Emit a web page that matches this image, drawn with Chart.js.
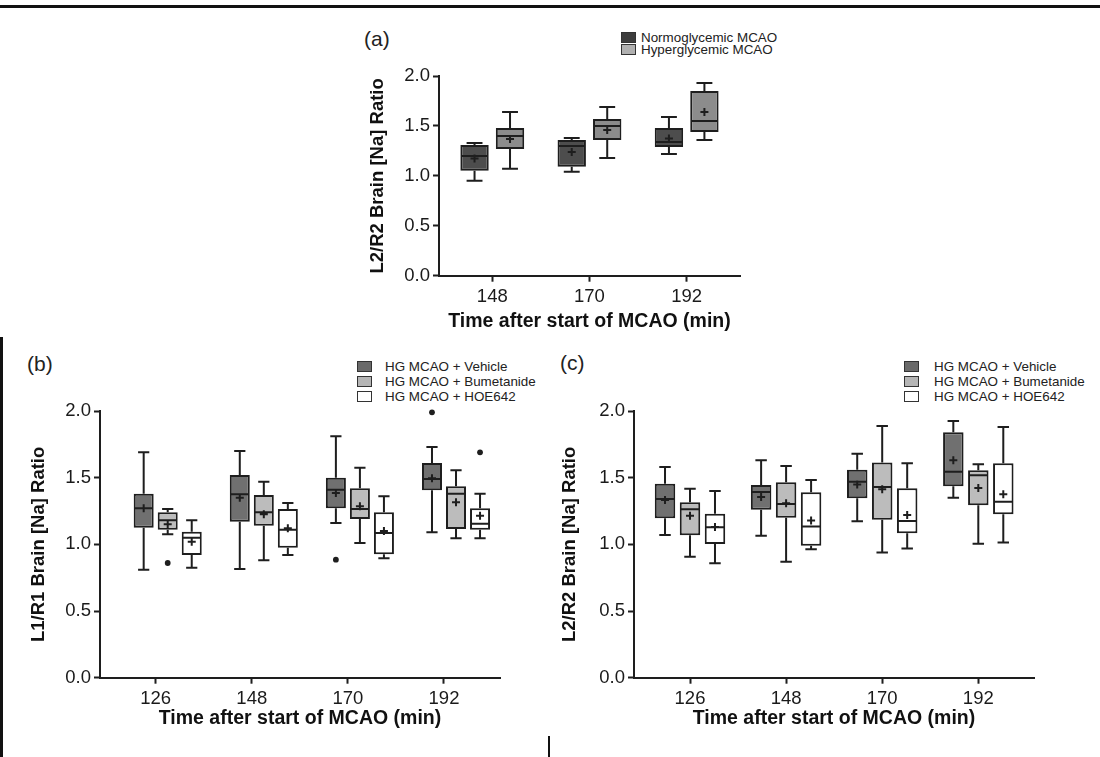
<!DOCTYPE html>
<html>
<head>
<meta charset="utf-8">
<script src="https://cdn.jsdelivr.net/npm/chart.js@4.4.1/dist/chart.umd.min.js"></script>
<style>
  html, body { margin: 0; padding: 0; background: #fff; }
  body { width: 1100px; height: 757px; position: relative; overflow: hidden; font-family: 'Liberation Sans', Arial, sans-serif; color: #222; }
  canvas { position: absolute; }
  .rule { position: absolute; background: #111; }
  .panel-tag { position: absolute; font-size: 21px; line-height: 24px; }
  .legend { position: absolute; font-size: 13.4px; }
  .legend .row { display: flex; align-items: center; white-space: nowrap; }
  .legend .sw { box-sizing: border-box; width: 15px; height: 11px; border: 1.5px solid #333; flex: none; }
</style>
</head>
<body>

<div class="rule" style="left:0;top:5px;width:1100px;height:2.5px"></div>
<div class="rule" style="left:0;top:337px;width:2.5px;height:420px"></div>
<div class="rule" style="left:548px;top:736px;width:2px;height:21px"></div>

<div class="panel-tag" style="left:364px;top:27px">(a)</div>
<div class="panel-tag" style="left:27px;top:352px">(b)</div>
<div class="panel-tag" style="left:560px;top:351px">(c)</div>

<div class="legend" id="legA" style="left:621px;top:31px"></div>
<div class="legend" id="legB" style="left:357px;top:359px"></div>
<div class="legend" id="legC" style="left:904px;top:359px"></div>

<canvas id="chartA" width="420" height="300" style="left:340px;top:40px"></canvas>
<canvas id="chartB" width="550" height="410" style="left:0px;top:340px"></canvas>
<canvas id="chartC" width="550" height="410" style="left:550px;top:340px"></canvas>

<script>
// time points (min after start of MCAO)
const TIMES_A = [148, 170, 192];
const TIMES_BC = [126, 148, 170, 192];
const Y_TICKS = [0, 0.5, 1.0, 1.5, 2.0];

// each row: [whisker low, Q1, median, Q3, whisker high, mean]
const A_NORMO = [
  [0.95, 1.05, 1.20, 1.31, 1.33, 1.175],
  [1.04, 1.09, 1.30, 1.36, 1.38, 1.24],
  [1.22, 1.29, 1.34, 1.48, 1.59, 1.375]
];
const A_HYPER = [
  [1.07, 1.27, 1.40, 1.48, 1.64, 1.37],
  [1.18, 1.36, 1.50, 1.57, 1.69, 1.46],
  [1.36, 1.44, 1.55, 1.85, 1.93, 1.64]
];

const B_VEH = [
  [0.81, 1.125, 1.27, 1.38, 1.69, 1.27],
  [0.815, 1.17, 1.375, 1.52, 1.70, 1.35],
  [1.16, 1.27, 1.41, 1.50, 1.81, 1.385],
  [1.09, 1.405, 1.49, 1.61, 1.73, 1.495]
];
const B_BUM = [
  [1.075, 1.11, 1.18, 1.24, 1.265, 1.15],
  [0.88, 1.14, 1.24, 1.37, 1.47, 1.225],
  [1.01, 1.19, 1.265, 1.42, 1.575, 1.285],
  [1.045, 1.115, 1.38, 1.435, 1.555, 1.315]
];
const B_HOE = [
  [0.825, 0.92, 1.05, 1.095, 1.18, 1.02],
  [0.92, 0.975, 1.11, 1.265, 1.31, 1.12],
  [0.895, 0.925, 1.085, 1.24, 1.36, 1.10],
  [1.045, 1.11, 1.155, 1.27, 1.38, 1.215]
];
const B_VEH_OUT = [[], [], [0.885], [1.99]];
const B_BUM_OUT = [[0.86], [], [], []];
const B_HOE_OUT = [[], [], [], [1.69]];

const C_VEH = [
  [1.07, 1.195, 1.34, 1.455, 1.58, 1.333],
  [1.065, 1.26, 1.393, 1.445, 1.63, 1.355],
  [1.173, 1.345, 1.47, 1.56, 1.68, 1.448],
  [1.35, 1.435, 1.545, 1.84, 1.925, 1.63]
];
const C_BUM = [
  [0.907, 1.068, 1.263, 1.315, 1.417, 1.215],
  [0.87, 1.20, 1.303, 1.465, 1.588, 1.308],
  [0.938, 1.185, 1.43, 1.613, 1.888, 1.413],
  [1.005, 1.293, 1.518, 1.555, 1.60, 1.423]
];
const C_HOE = [
  [0.858, 1.003, 1.128, 1.23, 1.40, 1.13],
  [0.963, 0.99, 1.133, 1.39, 1.483, 1.178],
  [0.968, 1.083, 1.175, 1.42, 1.608, 1.22],
  [1.013, 1.225, 1.32, 1.608, 1.88, 1.375]
];

const LEGEND_A = ['Normoglycemic MCAO', 'Hyperglycemic MCAO'];
const LEGEND_BC = ['HG MCAO + Vehicle', 'HG MCAO + Bumetanide', 'HG MCAO + HOE642'];

const FONT = "'Liberation Sans', Arial, sans-serif";
const LINE = '#1e1e1e';
const TEXT = '#1a1a1a';
const TICK_SIZE = 18.5;
const XTITLE_SIZE = 19.5;
const YTITLE_SIZE = 18.5;

// whiskers, median, mean (+) and outliers on top of the floating bars
const boxDetails = {
  id: 'boxDetails',
  afterDatasetsDraw(chart) {
    const ctx = chart.ctx;
    const yScale = chart.scales.y;
    const py = v => yScale.getPixelForValue(v);
    chart.data.datasets.forEach((ds, i) => {
      if (!ds.stats) return;
      const meta = chart.getDatasetMeta(i);
      meta.data.forEach((bar, j) => {
        const s = ds.stats[j];
        const { x, width } = bar.getProps(['x', 'width'], true);
        const half = width / 2;
        const cap = width * 0.28;
        ctx.save();
        ctx.strokeStyle = LINE;
        ctx.lineWidth = 2;
        ctx.beginPath();
        ctx.moveTo(x, py(s[1])); ctx.lineTo(x, py(s[0]));
        ctx.moveTo(x - cap, py(s[0])); ctx.lineTo(x + cap, py(s[0]));
        ctx.moveTo(x, py(s[3])); ctx.lineTo(x, py(s[4]));
        ctx.moveTo(x - cap, py(s[4])); ctx.lineTo(x + cap, py(s[4]));
        ctx.moveTo(x - half + 1, py(s[2])); ctx.lineTo(x + half - 1, py(s[2]));
        const my = py(s[5]);
        ctx.moveTo(x - 4, my); ctx.lineTo(x + 4, my);
        ctx.moveTo(x, my - 4); ctx.lineTo(x, my + 4);
        ctx.stroke();
        ctx.fillStyle = LINE;
        (ds.outliers ? ds.outliers[j] : []).forEach(v => {
          ctx.beginPath();
          ctx.arc(x, py(v), 2.9, 0, Math.PI * 2);
          ctx.fill();
        });
        ctx.restore();
      });
    });
  }
};

function boxDataset(label, rows, outliers, fill, times, cfg) {
  return {
    label,
    data: rows.map((r, j) => ({ x: times[j], y: [r[1], r[3]] })),
    stats: rows,
    outliers,
    backgroundColor: fill,
    borderColor: LINE,
    borderWidth: 2,
    borderSkipped: false,
    categoryPercentage: cfg.catPct,
    barPercentage: cfg.barPct
  };
}

function spacer(cfg) {
  return { label: '', data: [], categoryPercentage: cfg.catPct, barPercentage: cfg.barPct };
}

function makeOptions(cfg) {
  return {
    responsive: false,
    animation: false,
    devicePixelRatio: 1,
    layout: { padding: { left: 0, right: cfg.padRight, top: cfg.padTop, bottom: 0 } },
    plugins: { legend: { display: false }, tooltip: { enabled: false } },
    scales: {
      x: {
        type: 'linear',
        min: cfg.xMin,
        max: cfg.xMax,
        offset: false,
        afterBuildTicks: s => { s.ticks = cfg.times.map(v => ({ value: v })); },
        afterFit: s => { s.height = cfg.xHeight; },
        grid: { drawOnChartArea: false, drawTicks: true, tickLength: 6, tickWidth: 2, tickColor: LINE, offset: false },
        border: { display: true, color: LINE, width: 2 },
        ticks: { color: TEXT, autoSkip: false, maxRotation: 0, padding: 4,
                 font: { family: FONT, size: TICK_SIZE }, callback: v => String(v) },
        title: { display: true, text: 'Time after start of MCAO (min)', color: '#111',
                 font: { family: FONT, size: XTITLE_SIZE, weight: 'bold' },
                 padding: { top: 0, bottom: cfg.xTitlePad } }
      },
      y: {
        min: 0,
        max: 2,
        afterBuildTicks: s => { s.ticks = Y_TICKS.map(v => ({ value: v })); },
        afterFit: s => { s.width = cfg.yWidth; },
        grid: { drawOnChartArea: false, drawTicks: true, tickLength: 6, tickWidth: 2, tickColor: LINE },
        border: { display: true, color: LINE, width: 2 },
        ticks: { color: TEXT, padding: 3, font: { family: FONT, size: TICK_SIZE }, callback: v => Number(v).toFixed(1) },
        title: { display: true, text: cfg.yTitle, color: '#111',
                 font: { family: FONT, size: YTITLE_SIZE, weight: 'bold' },
                 padding: { top: cfg.yTitlePad, bottom: 0 } }
      }
    }
  };
}

function buildLegend(id, labels, fills, gap, rowH) {
  const el = document.getElementById(id);
  labels.forEach((t, i) => {
    const row = document.createElement('div');
    row.className = 'row';
    row.style.height = rowH + 'px';
    const sw = document.createElement('span');
    sw.className = 'sw';
    sw.style.background = fills[i];
    sw.style.marginRight = gap + 'px';
    const tx = document.createElement('span');
    tx.textContent = t;
    row.appendChild(sw);
    row.appendChild(tx);
    el.appendChild(row);
  });
}

// panel (a)
const cfgA = { times: TIMES_A, xMin: 135.94, xMax: 204.07, padTop: 36, padRight: 20, yWidth: 99,
  xHeight: 64.3, xTitlePad: 6.3, yTitlePad: 26.9, catPct: 0.73, barPct: 0.8, yTitle: 'L2/R2 Brain [Na] Ratio' };
new Chart(document.getElementById('chartA'), {
  type: 'bar',
  data: { datasets: [
    boxDataset(LEGEND_A[0], A_NORMO, null, '#4d4d4d', TIMES_A, cfgA),
    boxDataset(LEGEND_A[1], A_HYPER, null, '#8c8c8c', TIMES_A, cfgA)
  ] },
  options: makeOptions(cfgA),
  plugins: [boxDetails]
});

// panel (b): empty first slot so the tick sits between Vehicle and Bumetanide, as in the original
const cfgB = { times: TIMES_BC, xMin: 113.25, xMax: 204.82, padTop: 71, padRight: 50, yWidth: 100,
  xHeight: 72.3, xTitlePad: 19.3, yTitlePad: 27.9, catPct: 1.0, barPct: 0.833, yTitle: 'L1/R1 Brain [Na] Ratio' };
new Chart(document.getElementById('chartB'), {
  type: 'bar',
  data: { datasets: [
    spacer(cfgB),
    boxDataset(LEGEND_BC[0], B_VEH, B_VEH_OUT, '#707070', TIMES_BC, cfgB),
    boxDataset(LEGEND_BC[1], B_BUM, B_BUM_OUT, '#bcbcbc', TIMES_BC, cfgB),
    boxDataset(LEGEND_BC[2], B_HOE, B_HOE_OUT, '#ffffff', TIMES_BC, cfgB)
  ] },
  options: makeOptions(cfgB),
  plugins: [boxDetails]
});

// panel (c)
const cfgC = { times: TIMES_BC, xMin: 113.18, xMax: 204.75, padTop: 71, padRight: 66, yWidth: 84,
  xHeight: 72.3, xTitlePad: 19.3, yTitlePad: 8.9, catPct: 0.78, barPct: 0.82, yTitle: 'L2/R2 Brain [Na] Ratio' };
new Chart(document.getElementById('chartC'), {
  type: 'bar',
  data: { datasets: [
    boxDataset(LEGEND_BC[0], C_VEH, null, '#707070', TIMES_BC, cfgC),
    boxDataset(LEGEND_BC[1], C_BUM, null, '#bcbcbc', TIMES_BC, cfgC),
    boxDataset(LEGEND_BC[2], C_HOE, null, '#ffffff', TIMES_BC, cfgC)
  ] },
  options: makeOptions(cfgC),
  plugins: [boxDetails]
});

buildLegend('legA', LEGEND_A, ['#3d3d3d', '#b0b0b0'], 5, 12.5);
buildLegend('legB', LEGEND_BC, ['#6a6a6a', '#b5b5b5', '#ffffff'], 13, 15);
buildLegend('legC', LEGEND_BC, ['#6a6a6a', '#b5b5b5', '#ffffff'], 15, 15);
</script>
</body>
</html>
